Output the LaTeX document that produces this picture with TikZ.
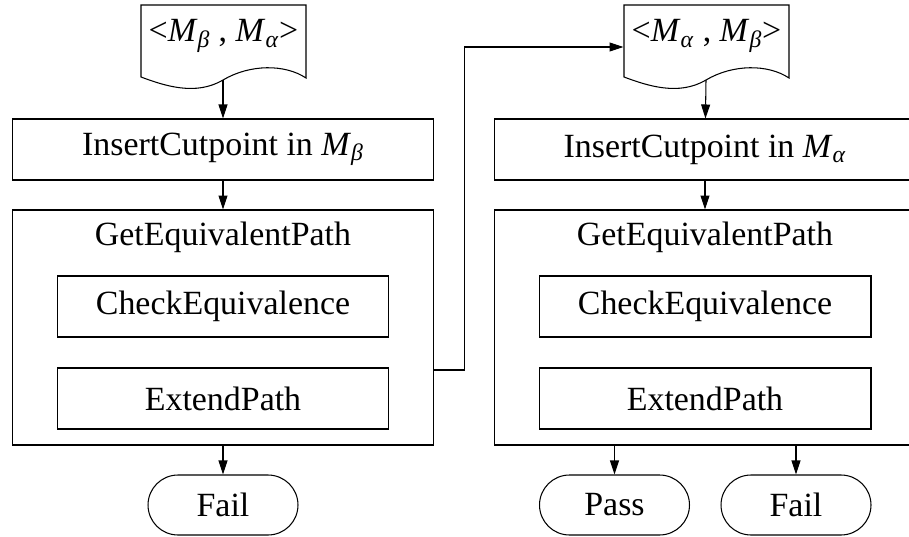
\documentclass[tikz,border=0pt]{standalone}
\usepackage{fontspec}
\setmainfont{Liberation Serif}
\usetikzlibrary{arrows.meta}
\newcommand{\Mbeta}{\textit{M}\textsubscript{\textit{β}}}
\newcommand{\Malpha}{\textit{M}\textsubscript{\textit{α}}}

\begin{document}
\begin{tikzpicture}[x=0.02cm, y=0.02cm, line width=0.6pt,
  every node/.style={font=\fontsize{19.3}{23}\selectfont, inner sep=0pt},
  docbox/.style={minimum width=3.3cm},
  stepbox/.style={draw, minimum width=8.44cm, minimum height=1.22cm},
  outerbox/.style={draw, minimum width=8.44cm, minimum height=4.7cm},
  innerbox/.style={draw, minimum width=6.64cm, minimum height=1.22cm},
  endbox/.style={draw, rounded corners=0.6cm, minimum width=3cm, minimum height=1.2cm},
  arr/.style={-{Triangle[length=0.28cm,width=0.18cm]}}]
\useasboundingbox (0,0) rectangle (909,-537);
% left column
\draw (141,-5) -- (306,-5) -- (306,-78) .. controls (285,-64) and (250,-64) .. (223,-80)
  .. controls (196,-96) and (165,-86) .. (141,-77) -- cycle;
\node[docbox] (docb) at (223.5,-36) {{<}\Mbeta{} , \Malpha{>}};
\coordinate (docbout) at (223,-80);
\node[stepbox] (insb) at (223,-149.5) {InsertCutpoint in \Mbeta};
\node[outerbox] (gepb) at (223,-327.5) {};
\node (gepbtitle) at (223,-237) {GetEquivalentPath};
\node[innerbox] (chkb) at (223,-306.5) {CheckEquivalence};
\node[innerbox] (extb) at (223,-398.5) {ExtendPath};
\node[endbox] (failb) at (223,-505) {Fail};
\draw[arr] (docbout) -- (insb);
\draw[arr] (insb) -- (gepb);
\draw[arr] (gepb) -- (failb);
% right column
\draw (624,-5) -- (789,-5) -- (789,-78) .. controls (768,-64) and (733,-64) .. (706,-80)
  .. controls (679,-96) and (648,-86) .. (624,-77) -- cycle;
\node[docbox] (doca) at (706.5,-36) {{<}\Malpha{} , \Mbeta{>}};
\coordinate (docaout) at (706,-80);
\node[stepbox] (insa) at (705,-149.5) {InsertCutpoint in \Malpha};
\node[outerbox] (gepa) at (705,-327.5) {};
\node (gepatitle) at (705,-237) {GetEquivalentPath};
\node[innerbox] (chka) at (705,-306.5) {CheckEquivalence};
\node[innerbox] (exta) at (705,-398.5) {ExtendPath};
\node[endbox] (passa) at (614.5,-505) {Pass};
\node[endbox] (faila) at (796,-505) {Fail};
\draw[arr] (docaout) -- (insa);
\draw[arr] (insa) -- (gepa);
\draw[arr] (gepa.south -| passa) -- (passa);
\draw[arr] (gepa.south -| faila) -- (faila);
% swap the order
\draw[arr] ([yshift=-0.85cm]gepb.east) -- ++(30,0) |- ([yshift=-0.22cm]doca.west);
\end{tikzpicture}
\end{document}
